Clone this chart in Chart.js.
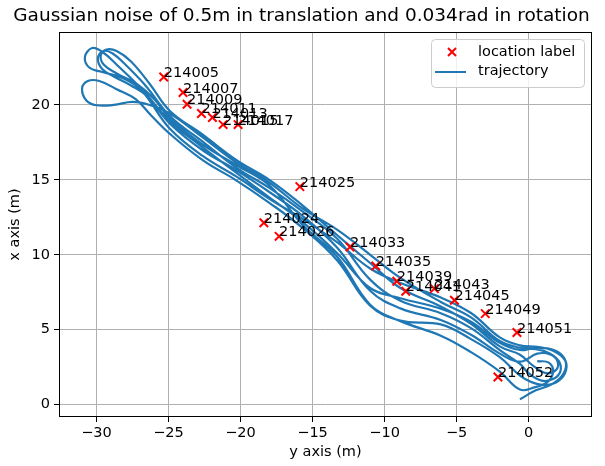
<!DOCTYPE html>
<html>
<head>
<meta charset="utf-8">
<script src="https://cdn.jsdelivr.net/npm/chart.js@4.4.1/dist/chart.umd.min.js"></script>
<style>
  body { margin: 0; background: #fff; }
  canvas { display: block; }
</style>
</head>
<body>
<canvas id="grafica" width="605" height="466"></canvas>
<script>
// El eje horizontal se llama "y axis (m)" y el vertical "x axis (m)".
// Todos los puntos son [y, x] en metros.
const labelNames = ['214005', '214007', '214009', '214011', '214013', '214015', '214017',
    '214024', '214025', '214026', '214033', '214035', '214039', '214041', '214043',
    '214045', '214049', '214051', '214052'];
const labelY = [-25.33, -23.99, -23.71, -22.71, -21.95, -21.21, -20.17,
    -18.38, -15.88, -17.32, -12.40, -10.61, -9.15, -8.53, -6.54,
    -5.15, -3.01, -0.81, -2.13];
const labelX = [21.87, 20.83, 20.05, 19.43, 19.16, 18.69, 18.69,
    12.14, 14.55, 11.23, 10.52, 9.25, 8.23, 7.56, 7.74,
    6.96, 6.07, 4.81, 1.84];

const yTicks = [-30, -25, -20, -15, -10, -5, 0];
const xTicks = [0, 5, 10, 15, 20];

// tramos de la trayectoria, en el orden en que se recorre
const inicio = [[-0.6, 0.35], [0.5, 0.95], [1.5, 1.3], [2.3, 1.9], [2.6, 2.7], [2.2, 3.4], [1.3, 3.75], [0.3, 3.75]];
const ida1 = [[-0.6, 3.64], [-2.0, 4.12], [-4.0, 5.53], [-6.1, 6.4], [-8.9, 7.1], [-11.0, 7.78],
    [-13.3, 10.12], [-15.7, 12.2], [-18.0, 13.83], [-20.3, 15.48], [-22.6, 17.15], [-24.9, 18.92]];
const vuelta1 = [[-26.8, 21.0], [-28.5, 22.6], [-29.6, 23.55], [-30.3, 23.8], [-30.8, 23.2], [-30.5, 22.5],
    [-29.6, 22.2], [-28.2, 21.8], [-26.9, 21.0]];
const ida2 = [[-24.9, 18.41], [-22.6, 16.58], [-20.3, 15.23], [-18.0, 13.74], [-15.7, 12.4], [-13.3, 10.84],
    [-11.0, 9.08], [-8.9, 8.12], [-6.1, 7.15], [-4.0, 6.11], [-2.0, 4.48], [-0.6, 3.95]];
const vuelta2 = [[0.6, 3.85], [1.7, 3.6], [2.5, 3.0], [2.6, 2.3], [2.1, 1.6], [1.2, 1.3], [0.2, 1.5]];
const ida3 = [[-0.6, 1.93], [-2.0, 3.16], [-4.0, 4.37], [-6.1, 5.35], [-8.9, 5.6], [-11.0, 6.6],
    [-13.3, 9.64], [-15.7, 11.8], [-18.0, 13.47], [-20.3, 14.97], [-22.6, 16.3], [-24.9, 18.07]];
const vuelta3 = [[-26.2, 19.3], [-27.3, 20.4], [-28.6, 21.05], [-29.8, 21.6], [-30.6, 21.6], [-31.0, 21.1],
    [-30.7, 20.3], [-30.0, 19.98], [-28.8, 20.0], [-27.5, 20.2], [-26.3, 20.0]];
const ida4 = [[-24.9, 19.43], [-22.6, 17.82], [-20.3, 16.16], [-18.0, 14.82], [-15.7, 13.1], [-13.3, 11.68],
    [-11.0, 10.0], [-8.9, 8.46], [-6.1, 6.85], [-4.0, 5.82], [-2.0, 4.24], [-0.6, 3.79]];
const vuelta4 = [[0.5, 3.7], [1.4, 3.45], [2.1, 2.9], [2.2, 2.2], [1.7, 1.7], [0.9, 1.6], [0.0, 2.1]];
const ida5 = [[-0.6, 2.71], [-2.0, 3.64], [-4.0, 5.1], [-6.1, 6.1], [-8.9, 6.93], [-11.0, 8.34],
    [-13.3, 11.08], [-15.7, 12.9], [-18.0, 14.46], [-20.3, 15.82], [-22.6, 17.53], [-24.9, 19.26]];
const vuelta5 = [[-26.6, 21.3], [-28.0, 22.7], [-28.9, 23.45], [-29.5, 23.6], [-29.9, 23.1], [-29.6, 22.4],
    [-28.8, 21.9], [-27.6, 21.3], [-26.5, 20.6]];
const ida6 = [[-24.9, 18.75], [-22.6, 16.96], [-20.3, 15.65], [-18.0, 14.19], [-15.7, 12.6], [-13.3, 10.48],
    [-11.0, 7.6], [-8.9, 6.42], [-6.1, 5.65], [-4.0, 4.66], [-2.0, 3.4], [-0.6, 2.86]];
const vuelta6 = [[0.6, 3.4], [1.5, 3.35], [2.0, 2.9], [1.9, 2.3], [1.2, 2.1], [0.3, 2.6]];
const ida7 = [[-0.6, 3.33], [-2.0, 3.88], [-4.0, 5.39], [-6.1, 6.55], [-8.9, 7.78], [-11.0, 9.45],
    [-13.3, 11.32], [-15.7, 13.3], [-18.0, 15.0], [-20.3, 16.33], [-22.6, 18.0], [-24.9, 19.6]];
const vuelta7 = [[-26.3, 21.4], [-27.6, 22.9], [-28.6, 23.6], [-29.3, 23.7], [-29.7, 23.3], [-29.5, 22.7],
    [-28.6, 22.1], [-27.2, 21.4], [-26.0, 20.4]];
const ida8 = [[-24.9, 19.09], [-22.6, 17.34], [-20.3, 15.99], [-18.0, 14.64], [-15.7, 12.0], [-13.3, 9.88],
    [-11.0, 6.67], [-8.9, 5.57], [-6.1, 4.6], [-4.0, 3.5], [-2.0, 2.2], [-0.6, 1.0]];
const fin = [[0.4, 1.15], [1.3, 1.5], [1.7, 2.2], [1.4, 2.8], [0.6, 2.9]];

const FUENTE = '"DejaVu Sans", sans-serif';
const TAM = 14.5;
const TITULO = 'Gaussian noise of 0.5m in translation and 0.034rad in rotation';

const trayectoria = [inicio, ida1, vuelta1, ida2, vuelta2, ida3, vuelta3, ida4, vuelta4,
    ida5, vuelta5, ida6, vuelta6, ida7, vuelta7, ida8, fin]
    .flat()
    .map(([y, x]) => ({ x: y, y: x }));
const marcas = labelY.map((y, i) => ({ x: y, y: labelX[i] }));

const menos = v => v < 0 ? '\u2212' + Math.abs(v) : String(v);

// marco, etiquetas de texto, leyenda y titulo
const extras = {
    id: 'extras',
    afterDatasetsDraw(chart) {
        const { ctx, chartArea: a, scales } = chart;
        ctx.save();
        ctx.strokeStyle = '#000';
        ctx.lineWidth = 1;
        ctx.strokeRect(Math.round(a.left) + 0.5, Math.round(a.top) + 0.5,
            Math.round(a.right - a.left) - 1, Math.round(a.bottom - a.top) - 1);

        ctx.fillStyle = '#000';
        ctx.font = TAM + 'px ' + FUENTE;
        ctx.textAlign = 'left';
        ctx.textBaseline = 'alphabetic';
        labelNames.forEach((n, i) => {
            ctx.fillText(n, scales.x.getPixelForValue(labelY[i]), scales.y.getPixelForValue(labelX[i]));
        });

        // leyenda
        ctx.beginPath();
        ctx.roundRect(431.5, 39.5, 153, 48, 4);
        ctx.fillStyle = 'rgba(255,255,255,0.8)';
        ctx.fill();
        ctx.strokeStyle = '#cccccc';
        ctx.stroke();

        ctx.strokeStyle = '#ff0000';
        ctx.lineWidth = 2;
        ctx.beginPath();
        ctx.moveTo(448, 48); ctx.lineTo(456, 56);
        ctx.moveTo(456, 48); ctx.lineTo(448, 56);
        ctx.stroke();

        ctx.strokeStyle = '#1f77b4';
        ctx.beginPath();
        ctx.moveTo(435, 72); ctx.lineTo(466, 72);
        ctx.stroke();

        ctx.fillStyle = '#000';
        ctx.textBaseline = 'middle';
        ctx.fillText('location label', 478, 52);
        ctx.fillText('trajectory', 478, 71);

        ctx.font = '18.5px ' + FUENTE;
        ctx.textAlign = 'center';
        ctx.textBaseline = 'alphabetic';
        ctx.fillText(TITULO, (a.left + a.right) / 2 - 24, 21);
        ctx.restore();
    }
};

const rejilla = { color: '#b0b0b0', lineWidth: 1, tickColor: '#000', tickLength: 5, tickWidth: 1 };

new Chart(document.getElementById('grafica'), {
    type: 'scatter',
    data: {
        datasets: [
            {
                label: 'location label',
                data: marcas,
                pointStyle: 'crossRot',
                pointRadius: 6,
                pointHoverRadius: 6,
                borderWidth: 2,
                pointBorderWidth: 2,
                borderColor: '#ff0000',
                backgroundColor: '#ff0000'
            },
            {
                label: 'trajectory',
                data: trayectoria,
                showLine: true,
                pointRadius: 0,
                borderColor: '#1f77b4',
                backgroundColor: '#1f77b4',
                borderWidth: 2.2,
                tension: 0.4
            }
        ]
    },
    options: {
        responsive: false,
        animation: false,
        layout: { padding: { top: 32, right: 13, left: 0, bottom: 0 } },
        plugins: {
            legend: { display: false },
            tooltip: { enabled: false },
            title: { display: false }
        },
        scales: {
            x: {
                type: 'linear',
                min: -32.6,
                max: 4.4,
                afterBuildTicks: s => { s.ticks = yTicks.map(v => ({ value: v })); },
                afterFit: s => { s.height = 49; },
                grid: rejilla,
                border: { display: false },
                ticks: { font: { family: FUENTE, size: TAM }, color: '#000', padding: 3, callback: menos, maxRotation: 0 },
                title: { display: true, text: 'y axis (m)', font: { family: FUENTE, size: TAM }, color: '#000', padding: { top: 0, bottom: 5 } }
            },
            y: {
                type: 'linear',
                min: -0.83,
                max: 24.87,
                afterBuildTicks: s => { s.ticks = xTicks.map(v => ({ value: v })); },
                afterFit: s => { s.width = 59; },
                grid: rejilla,
                border: { display: false },
                ticks: { font: { family: FUENTE, size: TAM }, color: '#000', padding: 4, callback: menos },
                title: { display: true, text: 'x axis (m)', font: { family: FUENTE, size: TAM }, color: '#000', padding: { top: 7, bottom: 0 } }
            }
        }
    },
    plugins: [extras]
});
</script>
</body>
</html>
